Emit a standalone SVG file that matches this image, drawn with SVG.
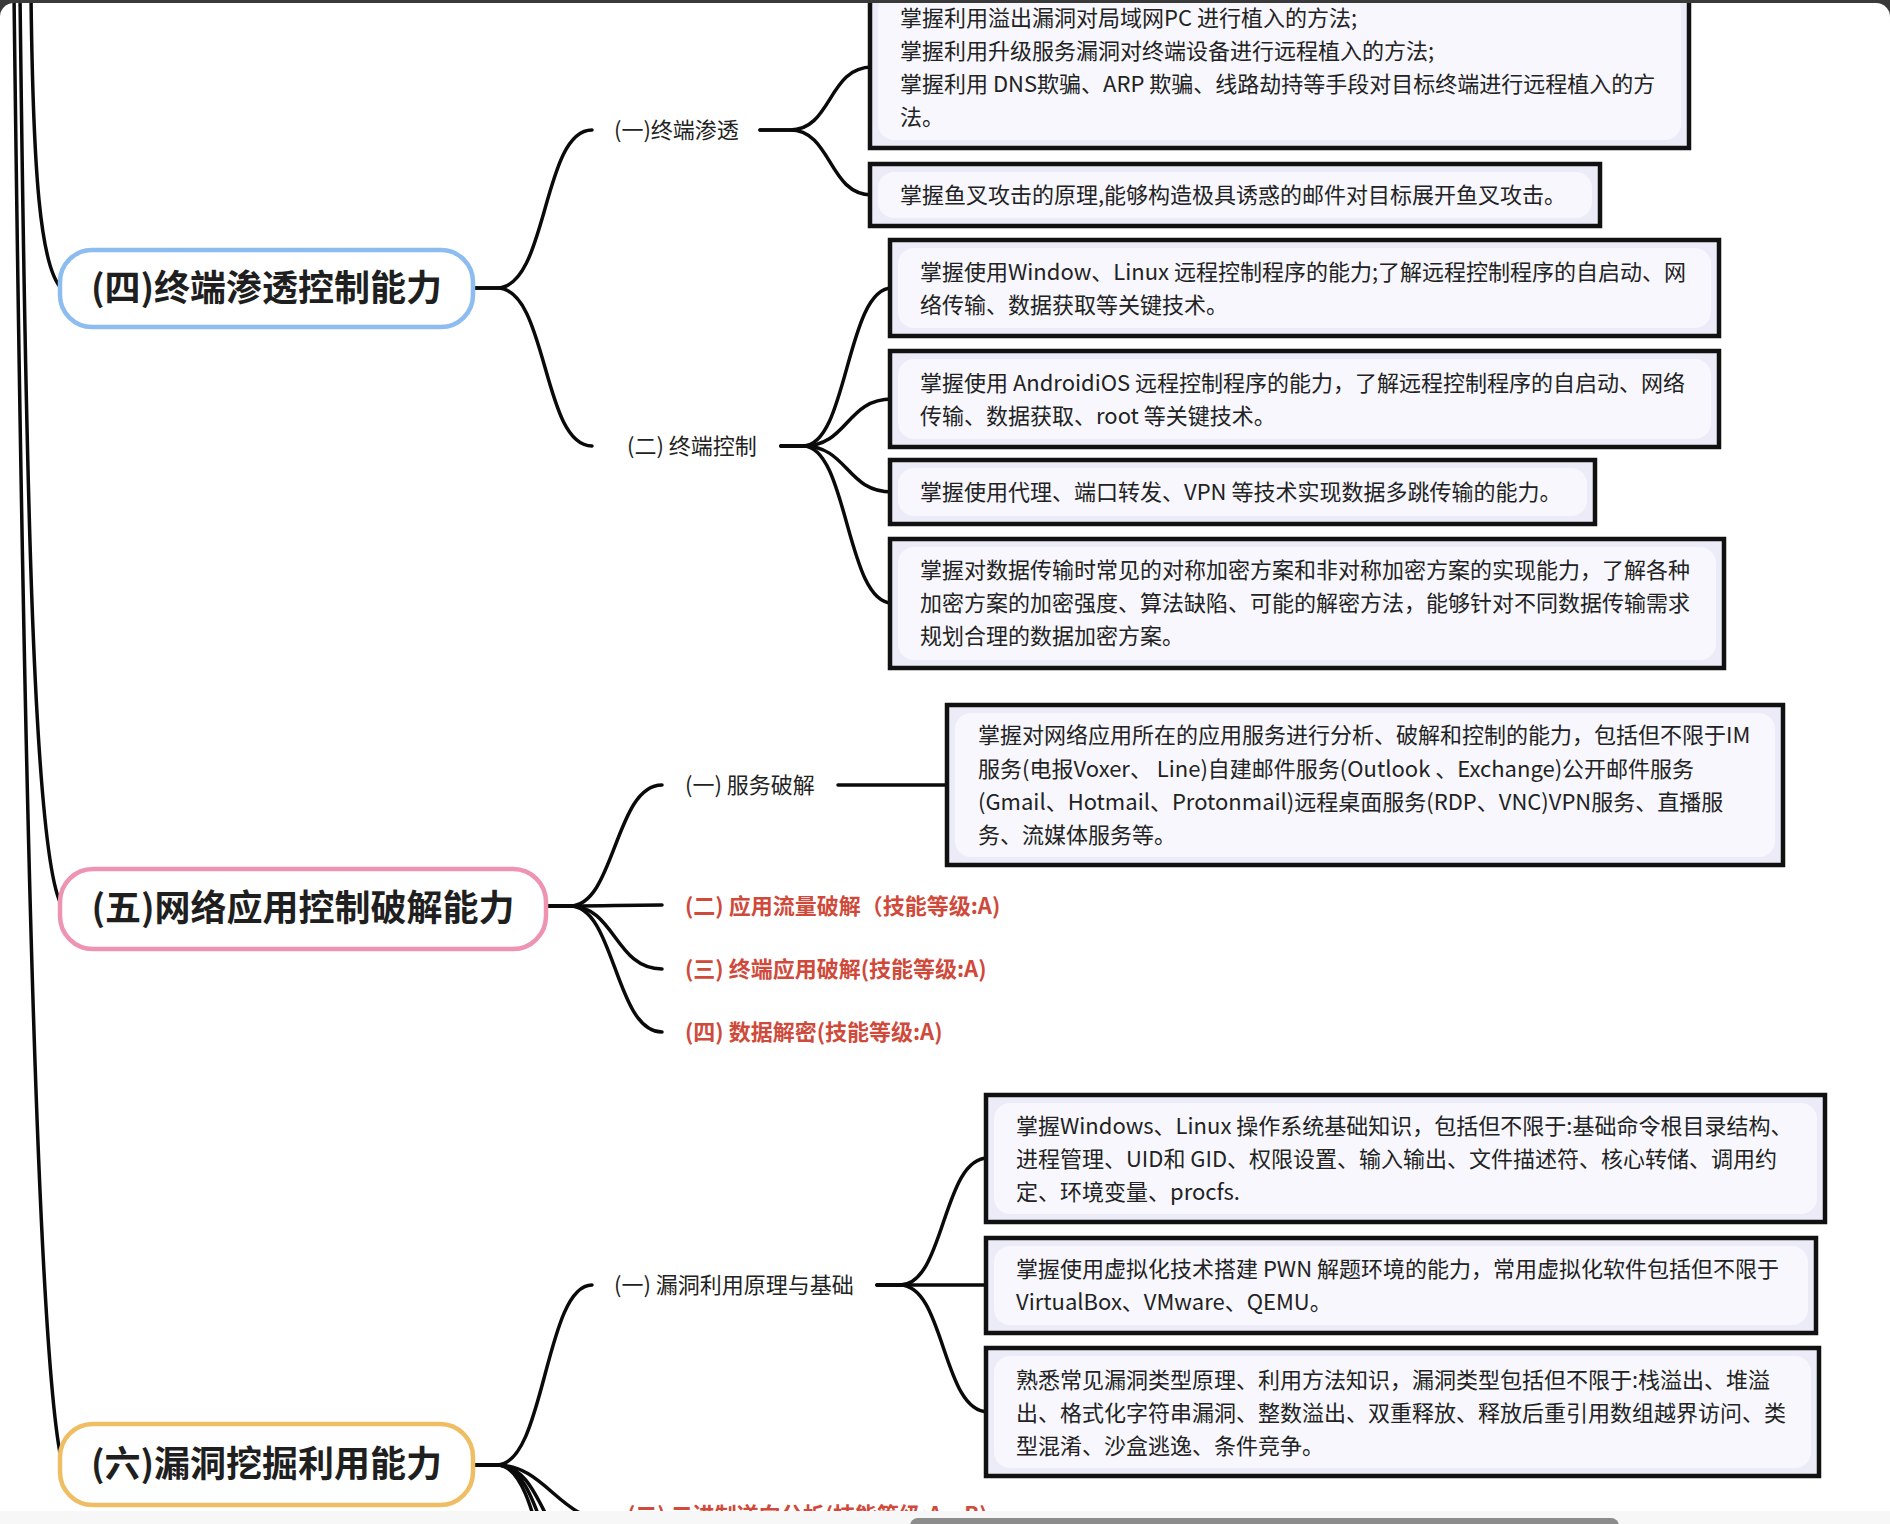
<svg xmlns="http://www.w3.org/2000/svg" width="1890" height="1524" viewBox="0 0 1890 1524">
<defs>
<style>
.conn{fill:none;stroke:#0a0a0a;stroke-width:3.5;stroke-linecap:round;stroke-linejoin:round}
.title{font-family:"Noto Sans CJK SC","Noto Sans",sans-serif;font-size:36px;font-weight:700;fill:#1f1f1f;text-anchor:middle}
.sub{font-family:"Noto Sans CJK SC","Noto Sans",sans-serif;font-size:22px;fill:#222}
.red{font-weight:700;fill:#cf4a3b}
.bo{fill:#ececf8;stroke:#111;stroke-width:4.5}
.bi{fill:#f7f7fd}
.bt{font-family:"Noto Sans CJK SC","Noto Sans",sans-serif;font-size:22px;fill:#222}
.pill{fill:#fff;stroke-width:4.5}
</style>
<clipPath id="win"><rect x="0" y="3" width="1890" height="1540" rx="14"/></clipPath>
</defs>
<rect x="0" y="0" width="1890" height="1524" fill="#3a3a3a"/>
<g clip-path="url(#win)">
<rect x="0" y="3" width="1890" height="1521" fill="#ffffff"/>

<g id="connectors">
<path class="conn" d="M 31 -5 C 33 170, 40 268, 62 289"/>
<path class="conn" d="M 20 -5 C 26 500, 34 860, 62 906"/>
<path class="conn" d="M 14 -5 C 24 800, 38 1360, 62 1463"/>

<path class="conn" d="M 473 288 L 497 288 C 548 288, 542 130, 592 130"/>
<path class="conn" d="M 473 288 L 497 288 C 548 288, 542 446, 592 446"/>

<path class="conn" d="M 760 130 L 790 130 C 832 130, 828 67, 872 67"/>
<path class="conn" d="M 760 130 L 790 130 C 832 130, 828 195, 872 195"/>

<path class="conn" d="M 781 446 L 803 446 C 848 446, 846 288, 892 288"/>
<path class="conn" d="M 781 446 L 803 446 C 848 446, 846 399, 892 399"/>
<path class="conn" d="M 781 446 L 803 446 C 848 446, 846 492, 892 492"/>
<path class="conn" d="M 781 446 L 803 446 C 848 446, 846 603, 892 603"/>

<path class="conn" d="M 546 906 L 570 906 C 615 906, 615 785, 662 785"/>
<path class="conn" d="M 546 906 L 570 906 C 610 906, 620 905, 662 905"/>
<path class="conn" d="M 546 906 L 570 906 C 615 906, 615 969, 662 969"/>
<path class="conn" d="M 546 906 L 570 906 C 615 906, 615 1032, 662 1032"/>
<path class="conn" d="M 838 785 L 949 785"/>

<path class="conn" d="M 473 1465 L 497 1465 C 545 1465, 545 1285, 592 1285"/>
<path class="conn" d="M 473 1465 L 497 1465 C 545 1465, 560 1520, 608 1520"/>
<path class="conn" d="M 473 1465 L 497 1465 C 545 1465, 545 1560, 592 1560"/>
<path class="conn" d="M 473 1465 L 497 1465 C 545 1465, 545 1600, 592 1600"/>
<path class="conn" d="M 473 1465 L 497 1465 C 545 1465, 545 1650, 592 1650"/>

<path class="conn" d="M 877 1285 L 900 1285 C 945 1285, 942 1158, 988 1158"/>
<path class="conn" d="M 877 1285 L 988 1285"/>
<path class="conn" d="M 877 1285 L 900 1285 C 945 1285, 942 1412, 988 1412"/>
</g>

<g id="node-4">
<rect class="pill" x="60" y="250" width="413" height="77" rx="32" stroke="#8dbdf0"/>
<text class="title" x="266.5" y="301">(四)终端渗透控制能力</text>
</g>
<g id="node-4-1"><text class="sub" x="614" y="138">(一)终端渗透</text></g>
<g id="node-4-2"><text class="sub" x="627" y="454">(二) 终端控制</text></g>

<g id="box-a1">
<rect class="bo" x="870" y="-14" width="819" height="162"/>
<rect class="bi" x="878" y="-6" width="803" height="146" rx="16"/>
<text class="bt" x="900" y="26">掌握利用溢出漏洞对局域网PC 进行植入的方法;</text>
<text class="bt" x="900" y="59">掌握利用升级服务漏洞对终端设备进行远程植入的方法;</text>
<text class="bt" x="900" y="92">掌握利用 DNS欺骗、ARP 欺骗、线路劫持等手段对目标终端进行远程植入的方</text>
<text class="bt" x="900" y="125">法。</text>
</g>
<g id="box-a2">
<rect class="bo" x="870" y="164" width="730" height="62"/>
<rect class="bi" x="878" y="172" width="714" height="46" rx="16"/>
<text class="bt" x="900" y="203">掌握鱼叉攻击的原理,能够构造极具诱惑的邮件对目标展开鱼叉攻击。</text>
</g>
<g id="box-b1">
<rect class="bo" x="890" y="240" width="829" height="96"/>
<rect class="bi" x="898" y="248" width="813" height="80" rx="16"/>
<text class="bt" x="920" y="280">掌握使用Window、Linux 远程控制程序的能力;了解远程控制程序的自启动、网</text>
<text class="bt" x="920" y="313">络传输、数据获取等关键技术。</text>
</g>
<g id="box-b2">
<rect class="bo" x="890" y="351" width="829" height="96"/>
<rect class="bi" x="898" y="359" width="813" height="80" rx="16"/>
<text class="bt" x="920" y="391">掌握使用 AndroidiOS 远程控制程序的能力，了解远程控制程序的自启动、网络</text>
<text class="bt" x="920" y="424">传输、数据获取、root 等关键技术。</text>
</g>
<g id="box-b3">
<rect class="bo" x="890" y="460" width="705" height="64"/>
<rect class="bi" x="898" y="468" width="689" height="48" rx="16"/>
<text class="bt" x="920" y="500">掌握使用代理、端口转发、VPN 等技术实现数据多跳传输的能力。</text>
</g>
<g id="box-b4">
<rect class="bo" x="890" y="539" width="834" height="129"/>
<rect class="bi" x="898" y="547" width="818" height="113" rx="16"/>
<text class="bt" x="920" y="578">掌握对数据传输时常见的对称加密方案和非对称加密方案的实现能力，了解各种</text>
<text class="bt" x="920" y="611">加密方案的加密强度、算法缺陷、可能的解密方法，能够针对不同数据传输需求</text>
<text class="bt" x="920" y="644">规划合理的数据加密方案。</text>
</g>

<g id="node-5">
<rect class="pill" x="60" y="869" width="486" height="80" rx="33" stroke="#ee93b0"/>
<text class="title" x="303" y="921">(五)网络应用控制破解能力</text>
</g>
<g id="node-5-1"><text class="sub" x="685" y="793">(一) 服务破解</text></g>
<g id="node-5-2"><text class="sub red" x="685" y="914">(二) 应用流量破解（技能等级:A)</text></g>
<g id="node-5-3"><text class="sub red" x="685" y="977">(三) 终端应用破解(技能等级:A)</text></g>
<g id="node-5-4"><text class="sub red" x="685" y="1040">(四) 数据解密(技能等级:A)</text></g>
<g id="box-c1">
<rect class="bo" x="947" y="705" width="836" height="160"/>
<rect class="bi" x="955" y="713" width="820" height="144" rx="16"/>
<text class="bt" x="978" y="743">掌握对网络应用所在的应用服务进行分析、破解和控制的能力，包括但不限于IM</text>
<text class="bt" x="978" y="777">服务(电报Voxer、 Line)自建邮件服务(Outlook 、Exchange)公开邮件服务</text>
<text class="bt" x="978" y="810">(Gmail、Hotmail、Protonmail)远程桌面服务(RDP、VNC)VPN服务、直播服</text>
<text class="bt" x="978" y="843">务、流媒体服务等。</text>
</g>

<g id="node-6">
<rect class="pill" x="60" y="1424" width="413" height="81" rx="33" stroke="#efbe64"/>
<text class="title" x="266.5" y="1477">(六)漏洞挖掘利用能力</text>
</g>
<g id="node-6-1"><text class="sub" x="614" y="1293">(一) 漏洞利用原理与基础</text></g>
<g id="node-6-2"><text class="sub red" x="627" y="1523">(二) 二进制逆向分析(技能等级:A、B)</text></g>
<g id="box-d1">
<rect class="bo" x="986" y="1095" width="839" height="127"/>
<rect class="bi" x="994" y="1103" width="823" height="111" rx="16"/>
<text class="bt" x="1016" y="1134">掌握Windows、Linux 操作系统基础知识，包括但不限于:基础命令根目录结构、</text>
<text class="bt" x="1016" y="1167">进程管理、UID和 GID、权限设置、输入输出、文件描述符、核心转储、调用约</text>
<text class="bt" x="1016" y="1200">定、环境变量、procfs.</text>
</g>
<g id="box-d2">
<rect class="bo" x="986" y="1238" width="830" height="95"/>
<rect class="bi" x="994" y="1246" width="814" height="79" rx="16"/>
<text class="bt" x="1016" y="1277">掌握使用虚拟化技术搭建 PWN 解题环境的能力，常用虚拟化软件包括但不限于</text>
<text class="bt" x="1016" y="1310">VirtualBox、VMware、QEMU。</text>
</g>
<g id="box-d3">
<rect class="bo" x="986" y="1348" width="833" height="128"/>
<rect class="bi" x="994" y="1356" width="817" height="112" rx="16"/>
<text class="bt" x="1016" y="1388">熟悉常见漏洞类型原理、利用方法知识，漏洞类型包括但不限于:栈溢出、堆溢</text>
<text class="bt" x="1016" y="1421">出、格式化字符串漏洞、整数溢出、双重释放、释放后重引用数组越界访问、类</text>
<text class="bt" x="1016" y="1454">型混淆、沙盒逃逸、条件竞争。</text>
</g>

<rect x="0" y="1511" width="1890" height="20" fill="#f7f7f7"/>
<rect x="910" y="1518" width="709" height="16" rx="8" fill="#8c8c8c"/>
</g>
</svg>
